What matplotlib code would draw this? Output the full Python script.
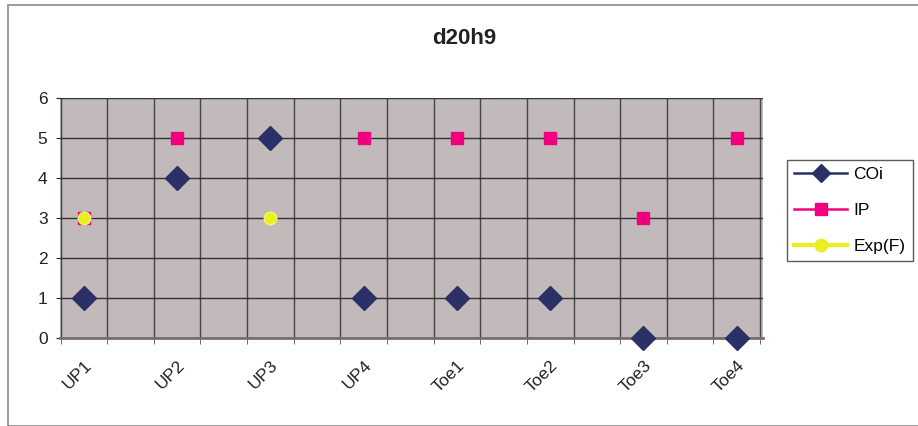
import matplotlib.pyplot as plt
import numpy as np
from matplotlib.patches import Rectangle
from matplotlib.lines import Line2D

categories = ['UP1', 'UP2', 'UP3', 'UP4', 'Toe1', 'Toe2', 'Toe3', 'Toe4']
coi = [1, 4, 5, 1, 1, 1, 0, 0]
ip = [3, 5, 5, 5, 5, 5, 3, 5]
exp_f = [3, None, 3, None, None, None, None, None]

x = np.arange(len(categories))
exp_x = [i for i, v in zip(x, exp_f) if v is not None]
exp_y = [v for v in exp_f if v is not None]

fig = plt.figure(figsize=(9.18, 4.26), dpi=100)
plt.rcParams['font.family'] = ['Liberation Sans', 'DejaVu Sans']

# outer chart border
fig.patches.append(Rectangle((8 / 918, 0), 1.0, 1 - 5 / 426, transform=fig.transFigure,
                             fill=False, edgecolor='#8a8a8a', linewidth=1.2))

ax = fig.add_axes([0.0654, 0.2066, 0.7656, 0.5634])
ax.set_facecolor('#c2baba')

ax.plot(x, ip, linestyle='none', marker='s', ms=9, color='#f0007f',
        label='IP', zorder=3, clip_on=False)
ax.plot(exp_x, exp_y, linestyle='none', marker='o', ms=9, color='#e8f020',
        markeredgecolor='#f4f470', label='Exp(F)', zorder=4, clip_on=False)
ax.plot(x, coi, linestyle='none', marker='D', ms=12.5, color='#2b3066',
        label='COi', zorder=5, clip_on=False)

ax.set_xlim(-0.255, 7.28)
ax.set_ylim(0, 6)
ax.set_yticks(range(7))
ax.set_xticks(x)
ax.set_xticklabels(categories, rotation=45, ha='right', rotation_mode='anchor')
ax.set_xticks(np.arange(-0.25, 7.3, 0.5), minor=True)
ax.tick_params(axis='x', which='major', length=0, pad=14, labelsize=12.5, colors='#222222')
ax.tick_params(axis='x', which='minor', length=4, color='#555555', direction='out')
ax.tick_params(axis='y', length=3, labelsize=12.5, colors='#222222', pad=6)

ax.grid(True, axis='y', color='#333333', linewidth=1)
ax.grid(True, axis='x', which='minor', color='#444444', linewidth=1)
ax.set_axisbelow(True)
for side in ['top', 'right', 'left']:
    ax.spines[side].set_visible(False)
ax.spines['bottom'].set_color('#7a6e6e')
ax.spines['bottom'].set_linewidth(2)

fig.text(0.506, 0.91, 'd20h9', ha='center', va='center', fontsize=16, fontweight='bold',
         color='#222222')

handles = [
    Line2D([], [], color='#2b3066', marker='D', ms=9, lw=1.8),
    Line2D([], [], color='#f0007f', marker='s', ms=9, lw=1.8),
    Line2D([], [], color='#e8f020', marker='o', ms=9, lw=3),
]
leg = fig.legend(handles, ['COi', 'IP', 'Exp(F)'], loc='upper left',
                 bbox_to_anchor=(0.857, 0.625), borderaxespad=0, frameon=True,
                 fancybox=False, fontsize=12.5, handlelength=3.1, labelspacing=1.2,
                 borderpad=0.4, handletextpad=0.35)
leg.get_frame().set_edgecolor('#333333')
leg.get_frame().set_linewidth(1)

fig.savefig('out.png', dpi=100)
